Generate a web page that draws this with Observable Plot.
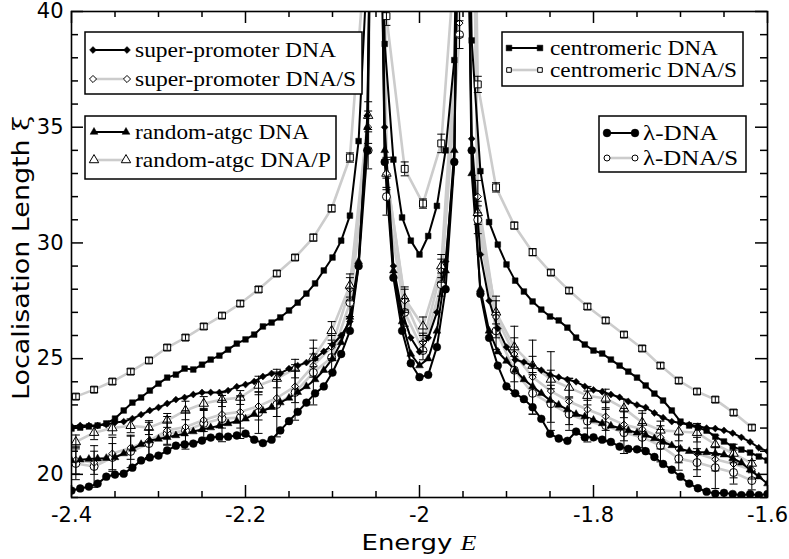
<!DOCTYPE html>
<html><head><meta charset="utf-8">
<script src="https://cdn.jsdelivr.net/npm/d3@7"></script>
<script src="https://cdn.jsdelivr.net/npm/@observablehq/plot@0.6"></script>
<style>html,body{margin:0;padding:0;background:#fff} svg{display:block}</style>
</head><body><div id="chart"></div>
<script>
// ---------- data ----------
const energyFine = [-2.40,-2.39,-2.38,-2.37,-2.36,-2.35,-2.34,-2.33,-2.32,-2.31,
 -2.30,-2.29,-2.28,-2.27,-2.26,-2.25,-2.24,-2.23,-2.22,-2.21,
 -2.20,-2.19,-2.18,-2.17,-2.16,-2.15,-2.14,-2.13,-2.12,-2.11,
 -2.10,-2.09,-2.08,-2.07,-2.06,-2.05,-2.04,-2.03,-2.02,-2.01,
 -2.00,-1.99,-1.98,-1.97,-1.96,-1.95,-1.94,-1.93,-1.92,-1.91,
 -1.90,-1.89,-1.88,-1.87,-1.86,-1.85,-1.84,-1.83,-1.82,-1.81,
 -1.80,-1.79,-1.78,-1.77,-1.76,-1.75,-1.74,-1.73,-1.72,-1.71,
 -1.70,-1.69,-1.68,-1.67,-1.66,-1.65,-1.64,-1.63,-1.62,-1.61,
 -1.60];

const centromericDNA = [21.98,22.02,22.07,22.11,22.20,22.41,22.76,23.10,23.32,23.62,
 23.92,24.18,24.31,24.57,24.53,24.74,24.96,25.13,25.39,25.65,
 25.83,26.04,26.39,26.56,26.78,27.08,27.42,27.81,28.25,28.81,
 29.37,30.10,31.18,34.40,42.00,60.00,38.60,33.60,31.10,30.10,
 29.50,30.30,31.60,34.00,37.90,60.00,38.75,33.10,30.90,29.93,
 29.07,28.37,27.90,27.47,27.12,26.82,26.65,26.34,25.91,25.61,
 25.35,25.22,24.96,24.70,24.44,24.18,23.84,23.49,23.19,22.76,
 22.28,22.11,22.02,21.89,21.63,21.42,21.20,21.07,20.94,20.77,
 20.60];

const superPromoterDNA = [22.07,22.11,22.11,22.11,22.15,22.24,22.28,22.41,22.58,22.76,
 22.89,23.06,23.23,23.32,23.45,23.54,23.54,23.54,23.62,23.79,
 23.88,24.01,24.23,24.36,24.36,24.57,24.70,24.83,25.00,25.31,
 25.60,26.00,26.60,29.00,35.50,60.00,35.00,29.00,27.00,25.90,
 25.30,25.90,27.00,29.20,33.50,60.00,34.50,29.50,27.50,26.30,
 25.50,24.95,24.85,24.70,24.50,24.30,24.20,24.10,24.00,23.80,
 23.65,23.57,23.45,23.33,23.15,23.00,22.89,22.65,22.45,22.28,
 22.22,22.15,22.08,22.00,21.98,21.90,21.78,21.60,21.40,21.15,
 21.00];

const randomAtgcDNA = [20.60,20.63,20.66,20.68,20.70,20.73,20.90,21.10,21.30,21.46,
 21.53,21.60,21.68,21.76,21.85,21.94,22.02,22.10,22.20,22.30,
 22.40,22.60,22.75,22.90,23.10,23.30,23.55,23.80,24.10,24.50,
 25.00,25.70,26.80,29.20,35.00,60.00,34.00,28.80,26.60,25.20,
 24.70,25.00,26.20,28.80,34.00,60.00,33.00,28.00,26.20,25.30,
 24.90,24.50,24.10,23.80,23.50,23.20,23.00,22.80,22.60,22.50,
 22.35,22.20,22.10,22.00,21.90,21.80,21.70,21.55,21.40,21.25,
 21.10,21.00,20.95,20.95,20.90,20.85,20.70,20.50,20.20,19.90,
 19.60];

const lambdaDNA = [19.30,19.39,19.47,19.60,19.90,19.99,20.03,20.29,20.60,20.73,
 20.81,21.03,21.24,21.29,21.33,21.46,21.59,21.63,21.63,21.68,
 21.76,21.50,21.35,21.50,21.90,22.30,22.70,23.10,23.50,23.80,
 24.40,25.20,26.20,29.00,34.00,60.00,33.50,28.50,26.20,24.80,
 24.20,24.30,25.50,28.00,33.50,60.00,34.00,27.80,25.90,24.70,
 23.80,23.50,23.25,22.90,22.40,21.75,21.55,21.45,21.85,21.60,
 21.60,21.50,21.40,21.20,21.10,21.08,21.00,20.75,20.45,20.20,
 19.90,19.60,19.40,19.25,19.17,19.20,19.15,19.10,19.15,19.10,
 19.15];

const energyCoarse = [-2.395,-2.374,-2.353,-2.332,-2.311,-2.290,-2.269,-2.248,-2.227,-2.206,
 -2.185,-2.164,-2.143,-2.122,-2.101,-2.080,-2.059,-2.050,-2.038,-2.017,
 -1.996,-1.975,-1.954,-1.950,-1.933,-1.912,-1.891,-1.870,-1.849,-1.828,
 -1.807,-1.786,-1.765,-1.744,-1.723,-1.702,-1.681,-1.660,-1.639,-1.618];

const centromericS = [23.36,23.66,24.01,24.44,24.92,25.48,25.91,26.39,26.86,27.38,
 27.99,28.68,29.37,30.23,31.49,33.69,44.00,80.00,39.80,33.20,
 31.70,34.30,45.00,80.00,36.85,32.40,30.75,29.60,28.72,27.94,
 27.25,26.65,26.04,25.44,24.70,24.05,23.58,23.23,22.67,22.02];
const centromericSErr = [0.12,0.12,0.12,0.12,0.12,0.12,0.12,0.12,0.12,0.12,
 0.12,0.12,0.12,0.15,0.15,0.2,0.3,0,0.4,0.3,
 0.2,0.4,0.3,0,0.35,0.2,0.15,0.15,0.12,0.12,
 0.12,0.12,0.12,0.12,0.12,0.12,0.12,0.12,0.12,0.12];

const superPromoterS = [20.62,20.50,20.90,21.15,21.45,21.90,22.05,22.35,22.60,22.70,
 22.95,23.30,23.80,24.70,25.50,28.00,35.00,80.00,33.00,27.50,
 25.70,28.80,39.50,80.00,32.00,26.80,25.20,24.20,23.60,23.15,
 22.80,22.50,22.15,21.95,21.60,21.10,20.90,20.65,20.45,20.20];
const superPromoterSErr = [0.6,0.5,0.7,0.5,0.8,0.6,0.7,0.5,0.6,0.7,
 0.6,0.8,0.7,0.5,0.5,0.5,0.7,0,0.7,0.5,
 0.4,0.5,0.6,0,0.7,0.9,1.2,1.6,1.7,1.0,
 0.8,0.6,0.7,0.8,0.5,0.6,0.7,0.5,0.6,0.4];

const lambdaS = [20.47,20.34,20.73,20.99,21.33,21.76,21.89,22.20,22.41,22.45,
 22.67,23.02,23.54,24.40,25.05,27.42,34.00,80.00,32.00,27.00,
 25.35,28.20,39.00,80.00,31.00,26.20,24.50,23.50,23.05,22.60,
 22.30,22.11,21.80,21.60,21.24,20.68,20.51,20.29,20.08,19.73];
const lambdaSErr = [0.7,0.9,0.6,0.7,0.6,0.5,0.8,0.6,1.0,0.9,
 0.9,1.4,1.2,1.4,0.6,0.6,0.8,0,0.8,0.6,
 0.4,0.5,0.6,0,0.6,0.8,1.0,0.9,0.8,0.7,
 0.9,0.7,0.9,0.6,0.7,0.5,0.6,0.9,0.5,0.4];

const randomAtgcP = [21.40,21.80,22.00,22.10,22.02,22.33,22.76,23.06,23.23,23.32,
 23.84,24.14,24.57,25.05,26.20,28.16,35.50,80.00,33.00,27.60,
 26.40,29.00,41.00,80.00,31.30,27.00,25.50,24.70,24.10,23.75,
 23.40,23.28,22.85,22.24,21.90,21.85,21.80,21.29,20.90,20.47];
const randomAtgcPErr = [0.3,0.3,0.3,0.3,0.3,0.3,0.4,0.3,0.3,0.3,
 0.4,0.4,0.4,0.4,0.4,0.5,0.6,0,0.6,0.5,
 0.4,0.5,0.6,0,0.5,0.5,0.4,0.4,0.4,0.4,
 0.4,0.4,0.4,0.4,0.4,0.4,0.4,0.4,0.4,0.4];

const xMajorTicks = [-2.4, -2.2, -2, -1.8, -1.6];
const xMinorTicks = [-2.35,-2.3,-2.25,-2.15,-2.1,-2.05,-1.95,-1.9,-1.85,-1.75,-1.7,-1.65];
const yMajorTicks = [20, 25, 30, 35, 40];
const yMinorTicks = [19,21,22,23,24,26,27,28,29,31,32,33,34,36,37,38,39];

const legendLabels = {
  sp: "super-promoter DNA", spS: "super-promoter DNA/S",
  ra: "random-atgc DNA", raP: "random-atgc DNA/P",
  ce: "centromeric DNA", ceS: "centromeric DNA/S",
  la: "λ-DNA", laS: "λ-DNA/S"
};

// ---------- tables ----------
const fine = vals => energyFine.map((E, i) => ({E, v: vals[i]}));
const coarse = (vals, errs) => energyCoarse.map((E, i) => ({E, v: vals[i], e: errs[i]}));

const ceT = fine(centromericDNA), spT = fine(superPromoterDNA), raT = fine(randomAtgcDNA), laT = fine(lambdaDNA);
const ceST = coarse(centromericS, centromericSErr), spST = coarse(superPromoterS, superPromoterSErr),
      raPT = coarse(randomAtgcP, randomAtgcPErr), laST = coarse(lambdaS, lambdaSErr);

// ---------- layout ----------
const W = 789, H = 559, mL = 71, mR = 22, mT = 11, mB = 62;
const fw = W - mL - mR, fh = H - mT - mB;
const GRAY = "#cccccc";
const capSymbol = {draw(ctx) { ctx.moveTo(-4, 0); ctx.lineTo(4, 0); }};

const grayLine = t => Plot.line(t, {x: "E", y: "v", stroke: GRAY, strokeWidth: 2.6, clip: true});
const blackLine = t => Plot.line(t, {x: "E", y: "v", stroke: "black", strokeWidth: 2, clip: true});
const openDot = (t, symbol, r) => Plot.dot(t, {x: "E", y: "v", symbol, r, fill: "white", stroke: "black", strokeWidth: 1, clip: true});
const fillDot = (t, symbol, r) => Plot.dot(t, {x: "E", y: "v", symbol, r, fill: "black", stroke: "black", strokeWidth: 0.5, clip: true});
const errBars = t => {
  const d = t.filter(p => p.e > 0);
  return [
    Plot.ruleX(d, {x: "E", y1: p => p.v - p.e, y2: p => p.v + p.e, stroke: "black", strokeWidth: 1, clip: true}),
    Plot.dot(d, {x: "E", y: p => p.v - p.e, symbol: capSymbol, r: 1, fill: "none", stroke: "black", strokeWidth: 1, clip: true}),
    Plot.dot(d, {x: "E", y: p => p.v + p.e, symbol: capSymbol, r: 1, fill: "none", stroke: "black", strokeWidth: 1, clip: true})
  ];
};

const R = {sq: 3.2, sqO: 3.9, ci: 3.9, ciO: 4.0, di: 3.1, diO: 3.2, tr: 2.9, trO: 3.5};

const plot = Plot.plot({
  width: W, height: H,
  marginLeft: mL, marginRight: mR, marginTop: mT, marginBottom: mB,
  x: {domain: [-2.4, -1.6]},
  y: {domain: [19, 40]},
  style: {fontFamily: "'DejaVu Sans', sans-serif", fontSize: "21px", background: "white", color: "black"},
  marks: [
    grayLine(ceST), grayLine(spST), grayLine(raPT), grayLine(laST),
    blackLine(ceT), blackLine(spT), blackLine(raT), blackLine(laT),
    openDot(ceST, "square", R.sqO), openDot(raPT, "triangle", R.trO),
    openDot(laST, "circle", R.ciO), openDot(spST, "diamond2", R.diO),
    ...errBars(ceST), ...errBars(raPT), ...errBars(laST), ...errBars(spST),
    fillDot(ceT, "square", R.sq), fillDot(spT, "diamond2", R.di),
    fillDot(raT, "triangle", R.tr), fillDot(laT, "circle", R.ci),
    Plot.frame({stroke: "black", strokeWidth: 1.6}),
    Plot.tickX(xMajorTicks, {x: d => d, insetTop: fh - 12, stroke: "black", strokeWidth: 1.5}),
    Plot.tickX(xMajorTicks, {x: d => d, insetBottom: fh - 12, stroke: "black", strokeWidth: 1.5}),
    Plot.tickX(xMinorTicks, {x: d => d, insetTop: fh - 6, stroke: "black", strokeWidth: 1.5}),
    Plot.tickX(xMinorTicks, {x: d => d, insetBottom: fh - 6, stroke: "black", strokeWidth: 1.5}),
    Plot.tickY(yMajorTicks, {y: d => d, insetRight: fw - 12, stroke: "black", strokeWidth: 1.5}),
    Plot.tickY(yMajorTicks, {y: d => d, insetLeft: fw - 12, stroke: "black", strokeWidth: 1.5}),
    Plot.tickY(yMinorTicks, {y: d => d, insetRight: fw - 7, stroke: "black", strokeWidth: 1.5}),
    Plot.tickY(yMinorTicks, {y: d => d, insetLeft: fw - 7, stroke: "black", strokeWidth: 1.5}),
    Plot.axisX(xMajorTicks, {tickSize: 0, tickPadding: 10, tickFormat: d => String(d), label: null}),
    Plot.axisY(yMajorTicks, {tickSize: 0, tickPadding: 8, tickFormat: d => String(d), label: null})
  ]
});
document.getElementById("chart").appendChild(plot);

// ---------- axis titles and legends ----------
const svg = d3.select(plot);
const g = svg.append("g");

const xt = g.append("text").attr("x", mL + fw / 2).attr("y", 550).attr("text-anchor", "middle")
  .attr("font-family", "'DejaVu Sans', sans-serif").attr("font-size", 22)
  .attr("textLength", 115).attr("lengthAdjust", "spacingAndGlyphs");
xt.append("tspan").text("Energy ");
xt.append("tspan").attr("font-family", "'Liberation Serif', serif").attr("font-style", "italic").text("E");

const yt = g.append("text").attr("transform", `translate(29,${mT + fh / 2 + 4}) rotate(-90)`).attr("text-anchor", "middle")
  .attr("font-family", "'DejaVu Sans', sans-serif").attr("font-size", 23)
  .attr("textLength", 284).attr("lengthAdjust", "spacingAndGlyphs");
yt.append("tspan").text("Localisation Length ");
yt.append("tspan").attr("font-family", "'DejaVu Serif', serif").text("ξ");

const LF = "'Liberation Serif', 'Times New Roman', serif";
const area = r => Math.PI * r * r;
function legend(box, rows) {
  g.append("rect").attr("x", box.x).attr("y", box.y).attr("width", box.w).attr("height", box.h)
    .attr("fill", "white").attr("stroke", "black").attr("stroke-width", 1.5);
  rows.forEach(r => {
    g.append("line").attr("x1", r.x1).attr("x2", r.x2).attr("y1", r.y).attr("y2", r.y)
      .attr("stroke", r.open ? GRAY : "black").attr("stroke-width", r.open ? 2.6 : 2);
    [r.x1, r.x2].forEach(cx => g.append("path").attr("d", d3.symbol(r.sym, area(r.r))())
      .attr("transform", `translate(${cx},${r.y})`).attr("fill", r.open ? "white" : "black")
      .attr("stroke", "black").attr("stroke-width", r.open ? 1 : 0.5));
    g.append("text").attr("x", r.tx).attr("y", r.ty).attr("text-anchor", "start")
      .attr("font-family", LF).attr("font-size", 21)
      .attr("textLength", r.tl).attr("lengthAdjust", "spacingAndGlyphs").text(r.label);
  });
}
legend({x: 85, y: 32, w: 277, h: 62}, [
  {x1: 93, x2: 127, y: 50, sym: d3.symbolDiamond2, r: R.di, open: false, tx: 135, ty: 57, tl: 201, label: legendLabels.sp},
  {x1: 93, x2: 127, y: 79, sym: d3.symbolDiamond2, r: R.diO, open: true, tx: 135, ty: 86, tl: 221, label: legendLabels.spS}
]);
legend({x: 85, y: 116, w: 251, h: 63}, [
  {x1: 94, x2: 126, y: 132, sym: d3.symbolTriangle, r: R.tr, open: false, tx: 135, ty: 139, tl: 174, label: legendLabels.ra},
  {x1: 94, x2: 126, y: 160, sym: d3.symbolTriangle, r: R.trO, open: true, tx: 135, ty: 167, tl: 196, label: legendLabels.raP}
]);
legend({x: 502, y: 32, w: 241, h: 54}, [
  {x1: 509, x2: 540, y: 48, sym: d3.symbolSquare, r: R.sq, open: false, tx: 550, ty: 55, tl: 168, label: legendLabels.ce},
  {x1: 509, x2: 540, y: 70, sym: d3.symbolSquare, r: 2.6, open: true, tx: 550, ty: 77, tl: 187, label: legendLabels.ceS}
]);
legend({x: 599, y: 116, w: 147, h: 56}, [
  {x1: 607, x2: 635, y: 133, sym: d3.symbolCircle, r: R.ci, open: false, tx: 643, ty: 140, tl: 75, label: legendLabels.la},
  {x1: 607, x2: 635, y: 158, sym: d3.symbolCircle, r: 3.0, open: true, tx: 643, ty: 165, tl: 95, label: legendLabels.laS}
]);
</script>
</body></html>
